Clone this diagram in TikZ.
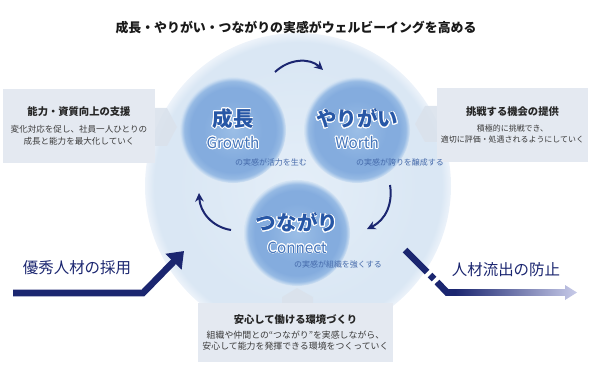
\documentclass[tikz,border=0pt]{standalone}
\usepackage{fontspec}
\setmainfont{Noto Sans CJK JP}
\usepackage{xcolor}
\usepackage{tikz}
\usepackage{contour}
\contourlength{0.7pt}
\usetikzlibrary{arrows.meta,positioning,calc}
\definecolor{navy}{HTML}{1B2670}
\definecolor{bleuT}{HTML}{2757A6}
\definecolor{bleuL}{HTML}{4676BB}
\definecolor{bleuC}{HTML}{4469AA}
\definecolor{boiteF}{HTML}{E4E9F1}
\definecolor{chevF}{HTML}{DAE2EC}
\definecolor{lavande}{HTML}{C8CBE9}
\definecolor{grisT}{HTML}{3A3A3A}
\definecolor{bigin}{HTML}{E4EEF8}
\definecolor{bigmid}{HTML}{DAE7F4}
\definecolor{bigedge}{HTML}{EDF3FA}
\definecolor{blobA}{HTML}{9BBEE6}
\definecolor{blobB}{HTML}{84ACDE}
\definecolor{blobC}{HTML}{96BAE4}
\definecolor{blobD}{HTML}{D6E5F4}
\pgfdeclareradialshading{bigglow}{\pgfpoint{0bp}{0bp}}{color(0bp)=(bigin); color(20bp)=(bigmid); color(23.5bp)=(bigmid); color(25bp)=(bigedge); color(50bp)=(bigedge)}
\pgfdeclareradialshading{blob}{\pgfpoint{0bp}{0bp}}{color(0bp)=(blobA); color(14bp)=(blobB); color(20bp)=(blobB); color(23bp)=(blobC); color(25bp)=(blobD); color(50bp)=(blobD)}
\newcommand{\titreb}[1]{{\fontsize{8.8}{10}\selectfont\bfseries\color{black!85}#1}}
\tikzset{
  boite/.style={rectangle, fill=boiteF, align=center, text=grisT, inner sep=0pt,
                font=\fontsize{7.3}{10.2}\selectfont},
  cercle/.style={circle, shade, shading=blob, minimum size=31.8mm, inner sep=0pt},
  jp/.style={font=\fontsize{17.5}{17.5}\selectfont\bfseries, text=bleuT},
  en/.style={font=\fontsize{13}{13}\selectfont, text=bleuL},
  capt/.style={font=\fontsize{6.8}{6.8}\selectfont, text=bleuC},
  cyc/.style={-{Stealth[length=2.6mm,width=2.6mm]}, line width=0.6mm, draw=navy},
  flux/.style={line width=2mm, draw=navy},
}
\begin{document}
\begin{tikzpicture}[x=0.3mm, y=-0.3mm]
    \useasboundingbox (0,0) rectangle (592,367);
    \node[circle, shade, shading=bigglow, minimum size=91.8mm, inner sep=0pt] (big) at (298,186) {};
    \node[font=\fontsize{11}{11}\selectfont\bfseries, text=black!90] (titre) at (296,28)
      {成長・やりがい・つながりの実感がウェルビーイングを高める};
    \fill[chevF, opacity=0.9] (150,108) -- (167,108) -- (177,127) -- (167,146) -- (150,146) -- cycle;
    \fill[chevF, opacity=0.9] (440,106) -- (425,106) -- (415,124) -- (425,142) -- (440,142) -- cycle;
    \fill[chevF, opacity=0.9] (282,306) -- (282,297) -- (297,288) -- (313,297) -- (313,306) -- cycle;
    \node[boite, minimum width=45.6mm, minimum height=22.2mm] (b1) at (79,126)
      {\titreb{能力・資質向上の支援}\\[1.3mm]
       変化対応を促し、社員一人ひとりの\\成長と能力を最大化していく};
    \node[boite, minimum width=45.3mm, minimum height=22.2mm, font=\fontsize{6.8}{9.6}\selectfont] (b2) at (512.5,125)
      {\titreb{挑戦する機会の提供}\\[1.5mm]
       積極的に挑戦でき、\\適切に評価・処遇されるようにしていく};
    \node[boite, minimum width=58.5mm, minimum height=17.7mm, font=\fontsize{7.6}{9.6}\selectfont] (b3) at (295.5,332.5)
      {\titreb{安心して働ける環境づくり}\\[1mm]
       組織や仲間との“つながり”を実感しながら、\\安心して能力を発揮できる環境をつくっていく};
    \node[cercle] (gr) at (233,130) {};
    \node[cercle] (wo) at (357,130) {};
    \node[cercle] (co) at (297,233) {};
    \node[jp] (grj) at (233,119) {\contour{white}{成長}};
    \node[en] (gre) at (233,143) {\contour{white}{Growth}};
    \node[capt] (grc) at (271,162) {の実感が活力を生む};
    \node[jp] (woj) at (357,119) {\contour{white}{やりがい}};
    \node[en] (woe) at (357,143) {\contour{white}{Worth}};
    \node[capt] (woc) at (400,162) {の実感が誇りを醸成する};
    \node[jp] (coj) at (297,223) {\contour{white}{つながり}};
    \node[en] (coe) at (297,248) {\contour{white}{Connect}};
    \node[capt] (coc) at (338,264) {の実感が組織を強くする};
    \coordinate (a1) at (275,72);
    \coordinate (a2) at (323,70);
    \coordinate (a3) at (390,185);
    \coordinate (a4) at (367,229);
    \coordinate (a5) at (231,230);
    \coordinate (a6) at (199,193);
    \draw[cyc] (a1) .. controls (290,58) and (310,58) .. (a2);
    \draw[cyc] (a3) .. controls (393,203) and (386,220) .. (a4);
    \draw[cyc] (a5) .. controls (212,227) and (200,212) .. (a6);
    \coordinate (e0) at (13,293);
    \coordinate (e1) at (143,293);
    \coordinate (e2) at (184,251);
    \draw[flux, -{Triangle[length=4.5mm,width=6.5mm]}] (e0) -- (e1) -- (e2);
    \node[font=\fontsize{13.2}{13.2}\selectfont, text=navy] (rec) at (77,268) {優秀人材の採用};
    \coordinate (s0) at (405,250);
    \coordinate (s1) at (427,272);
    \coordinate (s2) at (430,275);
    \coordinate (s3) at (434,279);
    \coordinate (s4) at (437,282);
    \coordinate (s5) at (447,292.5);
    \coordinate (s6) at (458,292.5);
    \draw[flux] (s0) -- (s1);
    \draw[flux] (s2) -- (s3);
    \draw[flux] (s4) -- (s5) -- (s6);
    \shade[left color=navy, right color=lavande] (455,289.2) -- (565,289.2) -- (565,285) -- (577,292.5)
      -- (565,300) -- (565,295.8) -- (455,295.8) -- cycle;
    \node[font=\fontsize{13.2}{13.2}\selectfont, text=navy] (fuite) at (506,270) {人材流出の防止};
  \end{tikzpicture}
\end{document}
